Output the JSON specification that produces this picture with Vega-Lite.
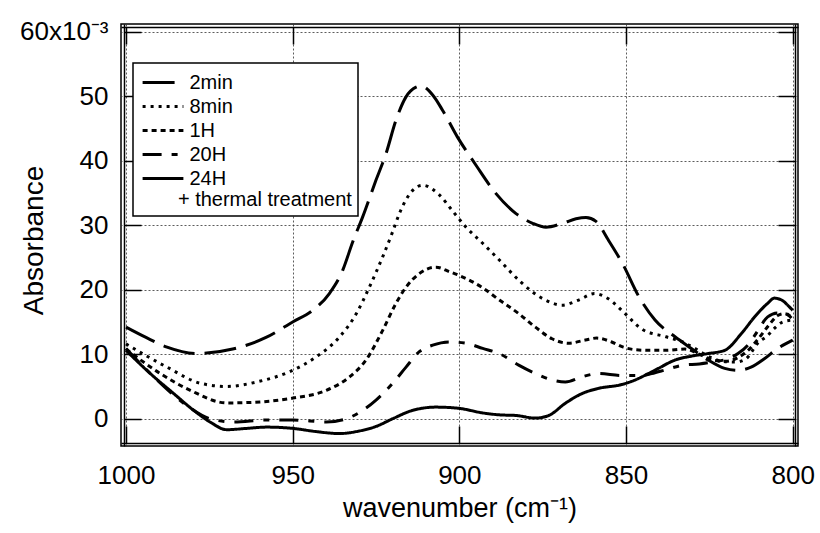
{
  "$schema": "https://vega.github.io/schema/vega-lite/v6.json",
  "width": 677,
  "height": 422,
  "autosize": {"type": "none"},
  "padding": {"left": 121, "top": 24, "right": 22, "bottom": 87},
  "background": "white",
  "config": {
    "font": "Liberation Sans",
    "view": {"stroke": "black", "strokeWidth": 1.5},
    "axis": {
      "domainColor": "black",
      "domainWidth": 1.5,
      "tickColor": "black",
      "tickWidth": 1.5,
      "gridColor": "#333333",
      "gridDash": [2, 2],
      "gridWidth": 0.8,
      "gridOpacity": 1,
      "labelFont": "Liberation Sans",
      "labelFontSize": 26,
      "labelColor": "black",
      "labelFlush": false,
      "labelOverlap": false,
      "titleFont": "Liberation Sans",
      "titleFontSize": 27,
      "titleFontWeight": "normal",
      "titleColor": "black"
    },
    "legend": {
      "orient": "none",
      "legendX": 12,
      "legendY": 39,
      "symbolType": "M-1.7,0H1.7",
      "symbolSize": 576,
      "symbolOffset": 10.5,
      "symbolStrokeWidth": 3,
      "symbolStrokeColor": "black",
      "labelFont": "Liberation Sans",
      "labelFontSize": 20,
      "labelColor": "black",
      "labelOffset": 13,
      "rowPadding": -1,
      "padding": 6,
      "strokeColor": "black",
      "strokeWidth": 1.5,
      "fillColor": "white",
      "titleOrient": "bottom",
      "titleAnchor": "start",
      "titleFont": "Liberation Sans",
      "titleFontSize": 20,
      "titleFontWeight": "normal",
      "titleColor": "black",
      "titlePadding": 1,
      "titleLimit": 500
    }
  },
  "data": {
    "values": [
      {"series": "2min", "wn": 1000, "abs": 14.2},
      {"series": "2min", "wn": 994, "abs": 12.6},
      {"series": "2min", "wn": 987.7, "abs": 11.1},
      {"series": "2min", "wn": 978.7, "abs": 10.1},
      {"series": "2min", "wn": 968, "abs": 10.8},
      {"series": "2min", "wn": 958, "abs": 12.6},
      {"series": "2min", "wn": 950, "abs": 15.0},
      {"series": "2min", "wn": 944, "abs": 16.8},
      {"series": "2min", "wn": 939, "abs": 19.4},
      {"series": "2min", "wn": 935, "abs": 23.0},
      {"series": "2min", "wn": 932, "abs": 27.4},
      {"series": "2min", "wn": 929, "abs": 31.3},
      {"series": "2min", "wn": 925, "abs": 37.0},
      {"series": "2min", "wn": 922, "abs": 41.1},
      {"series": "2min", "wn": 919, "abs": 46.3},
      {"series": "2min", "wn": 916, "abs": 49.9},
      {"series": "2min", "wn": 913, "abs": 51.4},
      {"series": "2min", "wn": 911.5, "abs": 51.6},
      {"series": "2min", "wn": 908, "abs": 50.2},
      {"series": "2min", "wn": 905, "abs": 47.8},
      {"series": "2min", "wn": 900.6, "abs": 43.7},
      {"series": "2min", "wn": 895, "abs": 39.3},
      {"series": "2min", "wn": 889, "abs": 34.9},
      {"series": "2min", "wn": 883, "abs": 31.8},
      {"series": "2min", "wn": 878, "abs": 30.3},
      {"series": "2min", "wn": 874, "abs": 29.7},
      {"series": "2min", "wn": 869, "abs": 30.3},
      {"series": "2min", "wn": 865, "abs": 31.0},
      {"series": "2min", "wn": 862, "abs": 31.2},
      {"series": "2min", "wn": 859, "abs": 30.6},
      {"series": "2min", "wn": 855.3, "abs": 27.7},
      {"series": "2min", "wn": 851, "abs": 24.0},
      {"series": "2min", "wn": 846, "abs": 18.8},
      {"series": "2min", "wn": 841.3, "abs": 15.3},
      {"series": "2min", "wn": 835.3, "abs": 12.7},
      {"series": "2min", "wn": 830.4, "abs": 10.9},
      {"series": "2min", "wn": 825.4, "abs": 9.1},
      {"series": "2min", "wn": 820.4, "abs": 7.8},
      {"series": "2min", "wn": 816.4, "abs": 7.5},
      {"series": "2min", "wn": 812.5, "abs": 8.0},
      {"series": "2min", "wn": 808.5, "abs": 9.3},
      {"series": "2min", "wn": 804.5, "abs": 10.9},
      {"series": "2min", "wn": 800, "abs": 12.2},

      {"series": "8min", "wn": 1000, "abs": 11.6},
      {"series": "8min", "wn": 987.7, "abs": 8.0},
      {"series": "8min", "wn": 977.7, "abs": 5.5},
      {"series": "8min", "wn": 969.8, "abs": 5.0},
      {"series": "8min", "wn": 960.8, "abs": 5.7},
      {"series": "8min", "wn": 950.9, "abs": 7.3},
      {"series": "8min", "wn": 942.9, "abs": 9.6},
      {"series": "8min", "wn": 935.9, "abs": 12.7},
      {"series": "8min", "wn": 930.9, "abs": 16.3},
      {"series": "8min", "wn": 927, "abs": 20.4},
      {"series": "8min", "wn": 923, "abs": 25.1},
      {"series": "8min", "wn": 920, "abs": 29.0},
      {"series": "8min", "wn": 918, "abs": 31.8},
      {"series": "8min", "wn": 914, "abs": 35.4},
      {"series": "8min", "wn": 911, "abs": 36.2},
      {"series": "8min", "wn": 906, "abs": 34.7},
      {"series": "8min", "wn": 902, "abs": 32.2},
      {"series": "8min", "wn": 898, "abs": 29.7},
      {"series": "8min", "wn": 893, "abs": 27.2},
      {"series": "8min", "wn": 888, "abs": 24.6},
      {"series": "8min", "wn": 881.6, "abs": 21.2},
      {"series": "8min", "wn": 874.2, "abs": 18.4},
      {"series": "8min", "wn": 869.2, "abs": 17.6},
      {"series": "8min", "wn": 864.2, "abs": 18.4},
      {"series": "8min", "wn": 859.5, "abs": 19.4},
      {"series": "8min", "wn": 855.3, "abs": 18.6},
      {"series": "8min", "wn": 850.3, "abs": 16.3},
      {"series": "8min", "wn": 845.3, "abs": 13.9},
      {"series": "8min", "wn": 838, "abs": 12.7},
      {"series": "8min", "wn": 833, "abs": 11.9},
      {"series": "8min", "wn": 829, "abs": 10.8},
      {"series": "8min", "wn": 825, "abs": 9.6},
      {"series": "8min", "wn": 821, "abs": 8.9},
      {"series": "8min", "wn": 817, "abs": 8.8},
      {"series": "8min", "wn": 814, "abs": 9.3},
      {"series": "8min", "wn": 810.5, "abs": 11.7},
      {"series": "8min", "wn": 807.5, "abs": 12.9},
      {"series": "8min", "wn": 805.5, "abs": 14.0},
      {"series": "8min", "wn": 803, "abs": 15.0},
      {"series": "8min", "wn": 800, "abs": 15.3},

      {"series": "1H", "wn": 1000, "abs": 10.8},
      {"series": "1H", "wn": 989.7, "abs": 7.0},
      {"series": "1H", "wn": 980.7, "abs": 4.4},
      {"series": "1H", "wn": 969.8, "abs": 2.45},
      {"series": "1H", "wn": 959.8, "abs": 2.6},
      {"series": "1H", "wn": 949.9, "abs": 3.2},
      {"series": "1H", "wn": 939.9, "abs": 4.4},
      {"series": "1H", "wn": 932.9, "abs": 6.5},
      {"series": "1H", "wn": 928, "abs": 9.1},
      {"series": "1H", "wn": 923, "abs": 13.7},
      {"series": "1H", "wn": 919, "abs": 17.9},
      {"series": "1H", "wn": 916, "abs": 20.4},
      {"series": "1H", "wn": 912, "abs": 22.5},
      {"series": "1H", "wn": 907, "abs": 23.5},
      {"series": "1H", "wn": 903, "abs": 22.8},
      {"series": "1H", "wn": 900, "abs": 22.2},
      {"series": "1H", "wn": 893, "abs": 20.3},
      {"series": "1H", "wn": 888, "abs": 18.4},
      {"series": "1H", "wn": 882.2, "abs": 16.3},
      {"series": "1H", "wn": 877.2, "abs": 14.2},
      {"series": "1H", "wn": 872.2, "abs": 12.4},
      {"series": "1H", "wn": 867.2, "abs": 11.7},
      {"series": "1H", "wn": 862.2, "abs": 12.2},
      {"series": "1H", "wn": 858.8, "abs": 12.5},
      {"series": "1H", "wn": 854.3, "abs": 11.9},
      {"series": "1H", "wn": 850.8, "abs": 11.1},
      {"series": "1H", "wn": 847.3, "abs": 10.7},
      {"series": "1H", "wn": 843.3, "abs": 10.6},
      {"series": "1H", "wn": 838.3, "abs": 10.6},
      {"series": "1H", "wn": 832.4, "abs": 10.8},
      {"series": "1H", "wn": 828, "abs": 10.0},
      {"series": "1H", "wn": 824, "abs": 9.1},
      {"series": "1H", "wn": 820, "abs": 8.9},
      {"series": "1H", "wn": 816, "abs": 9.6},
      {"series": "1H", "wn": 813, "abs": 10.8},
      {"series": "1H", "wn": 810, "abs": 12.6},
      {"series": "1H", "wn": 807, "abs": 14.6},
      {"series": "1H", "wn": 804.5, "abs": 16.0},
      {"series": "1H", "wn": 802.5, "abs": 16.3},
      {"series": "1H", "wn": 800, "abs": 15.6},

      {"series": "20H", "wn": 1000, "abs": 10.9},
      {"series": "20H", "wn": 991.7, "abs": 6.5},
      {"series": "20H", "wn": 982.7, "abs": 2.4},
      {"series": "20H", "wn": 974.8, "abs": 0.0},
      {"series": "20H", "wn": 967.8, "abs": -0.5},
      {"series": "20H", "wn": 957.8, "abs": -0.2},
      {"series": "20H", "wn": 949.9, "abs": -0.2},
      {"series": "20H", "wn": 939.9, "abs": -0.5},
      {"series": "20H", "wn": 933.9, "abs": 0.0},
      {"series": "20H", "wn": 929, "abs": 1.3},
      {"series": "20H", "wn": 925, "abs": 2.9},
      {"series": "20H", "wn": 920, "abs": 5.5},
      {"series": "20H", "wn": 916, "abs": 8.0},
      {"series": "20H", "wn": 912, "abs": 10.4},
      {"series": "20H", "wn": 908, "abs": 11.4},
      {"series": "20H", "wn": 903, "abs": 11.9},
      {"series": "20H", "wn": 898, "abs": 11.7},
      {"series": "20H", "wn": 893, "abs": 10.9},
      {"series": "20H", "wn": 888, "abs": 10.1},
      {"series": "20H", "wn": 882.2, "abs": 8.3},
      {"series": "20H", "wn": 877.2, "abs": 7.0},
      {"series": "20H", "wn": 872.2, "abs": 6.0},
      {"series": "20H", "wn": 868.2, "abs": 5.7},
      {"series": "20H", "wn": 863.2, "abs": 6.5},
      {"series": "20H", "wn": 858.3, "abs": 7.0},
      {"series": "20H", "wn": 851.3, "abs": 6.7},
      {"series": "20H", "wn": 845.3, "abs": 6.7},
      {"series": "20H", "wn": 842.3, "abs": 7.0},
      {"series": "20H", "wn": 838, "abs": 7.6},
      {"series": "20H", "wn": 833, "abs": 8.3},
      {"series": "20H", "wn": 828, "abs": 8.5},
      {"series": "20H", "wn": 824, "abs": 8.8},
      {"series": "20H", "wn": 820, "abs": 9.2},
      {"series": "20H", "wn": 816.4, "abs": 10.1},
      {"series": "20H", "wn": 813, "abs": 11.7},
      {"series": "20H", "wn": 810.4, "abs": 13.7},
      {"series": "20H", "wn": 807.5, "abs": 15.8},
      {"series": "20H", "wn": 804.5, "abs": 16.4},
      {"series": "20H", "wn": 802.5, "abs": 16.4},
      {"series": "20H", "wn": 800, "abs": 15.4},

      {"series": "24H", "wn": 1000, "abs": 10.6},
      {"series": "24H", "wn": 992.7, "abs": 7.0},
      {"series": "24H", "wn": 985.7, "abs": 3.9},
      {"series": "24H", "wn": 979.7, "abs": 1.3},
      {"series": "24H", "wn": 974.8, "abs": -0.5},
      {"series": "24H", "wn": 969.8, "abs": -1.7},
      {"series": "24H", "wn": 963.8, "abs": -1.5},
      {"series": "24H", "wn": 957.8, "abs": -1.3},
      {"series": "24H", "wn": 949.9, "abs": -1.5},
      {"series": "24H", "wn": 942.9, "abs": -2.0},
      {"series": "24H", "wn": 935.9, "abs": -2.3},
      {"series": "24H", "wn": 930, "abs": -1.9},
      {"series": "24H", "wn": 925, "abs": -1.2},
      {"series": "24H", "wn": 920, "abs": 0.0},
      {"series": "24H", "wn": 914, "abs": 1.3},
      {"series": "24H", "wn": 907, "abs": 1.8},
      {"series": "24H", "wn": 900, "abs": 1.6},
      {"series": "24H", "wn": 893, "abs": 0.9},
      {"series": "24H", "wn": 888, "abs": 0.6},
      {"series": "24H", "wn": 883, "abs": 0.5},
      {"series": "24H", "wn": 877.2, "abs": 0.1},
      {"series": "24H", "wn": 873.2, "abs": 0.5},
      {"series": "24H", "wn": 868.2, "abs": 2.4},
      {"series": "24H", "wn": 863.2, "abs": 3.9},
      {"series": "24H", "wn": 858.3, "abs": 4.7},
      {"series": "24H", "wn": 851.3, "abs": 5.3},
      {"series": "24H", "wn": 847.3, "abs": 6.0},
      {"series": "24H", "wn": 843.3, "abs": 7.0},
      {"series": "24H", "wn": 840.3, "abs": 7.8},
      {"series": "24H", "wn": 835.3, "abs": 9.1},
      {"series": "24H", "wn": 830.4, "abs": 9.7},
      {"series": "24H", "wn": 825.4, "abs": 10.1},
      {"series": "24H", "wn": 820.4, "abs": 10.6},
      {"series": "24H", "wn": 815.4, "abs": 13.2},
      {"series": "24H", "wn": 811.4, "abs": 15.8},
      {"series": "24H", "wn": 807.5, "abs": 17.9},
      {"series": "24H", "wn": 805.5, "abs": 18.7},
      {"series": "24H", "wn": 803, "abs": 18.3},
      {"series": "24H", "wn": 801.5, "abs": 17.6},
      {"series": "24H", "wn": 800, "abs": 16.8}
    ]
  },
  "layer": [
    {
      "mark": {"type": "line", "color": "black", "strokeWidth": 3, "interpolate": "monotone", "clip": true},
      "encoding": {
        "x": {
          "field": "wn", "type": "quantitative",
          "scale": {"domain": [798.41, 1001.5], "reverse": true, "nice": false, "zero": false},
          "axis": {
            "orient": "bottom",
            "values": [1000, 950, 900, 850, 800],
            "format": "d",
            "tickSize": -17,
            "offset": -3,
            "labelPadding": 36,
            "grid": true,
            "title": "wavenumber (cm⁻¹)",
            "titleBaseline": "alphabetic",
            "titleY": 73
          }
        },
        "y": {
          "field": "abs", "type": "quantitative",
          "scale": {"domain": [-4.23, 61.2], "nice": false, "zero": false},
          "axis": {
            "orient": "left",
            "values": [0, 10, 20, 30, 40, 50, 60],
            "tickSize": -17,
            "offset": -3,
            "labelPadding": 33,
            "labelExpr": "datum.value == 60 ? '60x10⁻³' : datum.label",
            "grid": true,
            "title": "Absorbance",
            "titleFontSize": 28,
            "titleBaseline": "alphabetic",
            "titleAlign": "center",
            "titleAngle": -90,
            "titleX": -82,
            "titleY": 216
          }
        },
        "strokeDash": {
          "field": "series", "type": "nominal",
          "scale": {
            "domain": ["2min", "8min", "1H", "20H", "24H"],
            "range": [[32, 10], [3, 5], [5, 4], [19, 10, 6, 10], [1, 0]]
          },
          "legend": {"title": "\u200b\u00a0\u00a0\u00a0\u00a0\u00a0\u00a0\u00a0+ thermal treatment"}
        },
        "detail": {"field": "series"}
      }
    },
    {
      "mark": {"type": "point", "opacity": 0},
      "encoding": {
        "x": {
          "field": "wn", "type": "quantitative",
          "axis": {
            "orient": "top",
            "values": [1000, 950, 900, 850, 800],
            "tickSize": -17,
            "offset": -3,
            "labels": false,
            "grid": false,
            "title": null
          }
        },
        "y": {
          "field": "abs", "type": "quantitative",
          "axis": {
            "orient": "right",
            "values": [0, 10, 20, 30, 40, 50, 60],
            "tickSize": -17,
            "offset": -3,
            "labels": false,
            "grid": false,
            "title": null
          }
        }
      }
    }
  ],
  "resolve": {"axis": {"x": "independent", "y": "independent"}}
}
